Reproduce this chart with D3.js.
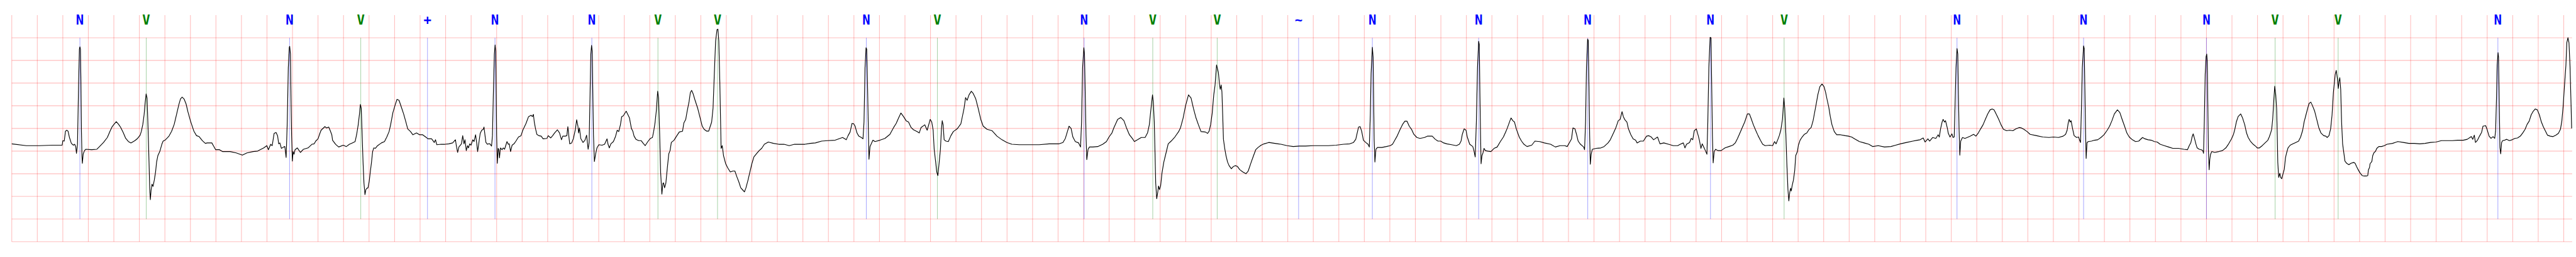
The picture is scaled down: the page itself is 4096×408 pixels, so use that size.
<!DOCTYPE html>
<html><head><meta charset="utf-8">
<script src="https://cdn.jsdelivr.net/npm/d3@7"></script>
<style>html,body{margin:0;padding:0;background:#fff;overflow:hidden}</style>
</head><body>
<svg id="chart" width="4096" height="408" viewBox="0 0 7523 750" preserveAspectRatio="none"></svg>
<script>
// ECG trace: [time (s), amplitude (mV)]
const ecgPoints = [
[0.000,-0.34],[0.113,-0.38],[0.216,-0.38],[0.318,-0.37],[0.395,-0.37],[0.400,-0.27],[0.411,-0.28],[0.421,-0.06],[0.431,-0.04],[0.441,-0.06],[0.452,-0.20],[0.467,-0.33],[0.483,-0.37],[0.493,-0.35],[0.501,-0.40],[0.507,-0.55],[0.515,-0.35],[0.524,1.03],[0.530,1.75],[0.534,1.80],[0.538,1.75],[0.542,1.03],[0.546,-0.06],[0.550,-0.60],[0.553,-0.77],[0.560,-0.56],[0.570,-0.49],[0.580,-0.46],[0.626,-0.47],[0.667,-0.46],[0.688,-0.40],[0.719,-0.31],[0.749,-0.20],[0.770,-0.06],[0.785,0.03],[0.801,0.09],[0.819,0.15],[0.837,0.09],[0.852,0.03],[0.873,-0.09],[0.893,-0.22],[0.914,-0.29],[0.934,-0.32],[0.965,-0.27],[0.986,-0.22],[1.006,-0.15],[1.016,-0.06],[1.027,0.09],[1.037,0.30],[1.045,0.56],[1.053,0.76],[1.060,0.67],[1.068,0.01],[1.076,-0.78],[1.081,-1.32],[1.086,-1.57],[1.092,-1.36],[1.099,-1.23],[1.107,-1.28],[1.117,-1.14],[1.127,-0.96],[1.135,-0.74],[1.145,-0.60],[1.160,-0.51],[1.176,-0.35],[1.186,-0.28],[1.201,-0.26],[1.232,-0.17],[1.253,-0.06],[1.273,0.09],[1.294,0.34],[1.309,0.52],[1.322,0.65],[1.335,0.69],[1.350,0.65],[1.366,0.54],[1.381,0.36],[1.401,0.16],[1.427,-0.06],[1.448,-0.16],[1.468,-0.18],[1.494,-0.27],[1.517,-0.33],
[1.532,-0.32],[1.568,-0.32],[1.580,-0.38],[1.598,-0.47],[1.628,-0.47],[1.651,-0.51],[1.711,-0.51],[1.759,-0.54],[1.807,-0.59],[1.843,-0.54],[1.891,-0.51],[1.927,-0.50],[1.975,-0.43],[1.999,-0.38],[2.011,-0.47],[2.029,-0.35],[2.041,-0.38],[2.056,-0.11],[2.071,-0.09],[2.083,-0.16],[2.092,-0.34],[2.101,-0.32],[2.113,-0.44],[2.131,-0.41],[2.140,-0.40],[2.150,-0.64],[2.159,0.14],[2.167,1.34],[2.175,1.79],[2.178,1.81],[2.184,1.64],[2.188,0.74],[2.193,-0.16],[2.199,-0.72],[2.205,-0.51],[2.212,-0.57],[2.220,-0.47],[2.238,-0.43],[2.262,-0.53],[2.286,-0.46],[2.322,-0.43],[2.352,-0.35],[2.370,-0.34],[2.382,-0.28],[2.400,-0.23],[2.416,-0.10],[2.424,-0.04],[2.454,0.04],[2.466,0.01],[2.484,0.03],[2.496,-0.05],[2.508,-0.14],[2.514,-0.26],[2.538,-0.35],[2.562,-0.41],[2.598,-0.37],[2.622,-0.40],[2.646,-0.35],[2.669,-0.32],[2.691,-0.29],[2.703,-0.13],[2.715,0.08],[2.725,0.32],[2.732,0.53],[2.739,0.44],[2.746,-0.16],[2.753,-0.75],[2.760,-1.20],[2.768,-1.46],[2.775,-1.35],[2.783,-1.32],[2.792,-1.31],[2.801,-1.17],[2.811,-0.93],[2.819,-0.75],[2.828,-0.51],[2.837,-0.43],[2.849,-0.44],[2.867,-0.38],[2.897,-0.32],[2.921,-0.29],[2.939,-0.19],[2.957,-0.07],[2.969,0.08],[2.987,0.35],[3.005,0.52],[3.019,0.64],[3.035,0.62],[3.053,0.47],[3.071,0.32],[3.089,0.14],[3.103,-0.01],[3.125,-0.07],[3.143,-0.14],[3.172,-0.10],[3.196,-0.14],[3.220,-0.14],[3.244,-0.19],[3.262,-0.23],[3.290,-0.23],
[3.296,-0.25],[3.311,-0.31],[3.321,-0.25],[3.331,-0.36],[3.365,-0.35],[3.395,-0.35],[3.425,-0.34],[3.455,-0.32],[3.477,-0.25],[3.484,-0.38],[3.494,-0.53],[3.504,-0.41],[3.524,-0.34],[3.534,-0.16],[3.544,-0.34],[3.552,-0.25],[3.562,-0.49],[3.572,-0.38],[3.579,-0.43],[3.589,-0.34],[3.599,-0.37],[3.613,-0.25],[3.623,-0.29],[3.635,-0.14],[3.643,-0.31],[3.651,-0.51],[3.661,-0.31],[3.671,-0.11],[3.683,-0.04],[3.695,-0.02],[3.701,0.03],[3.709,-0.16],[3.716,-0.31],[3.728,-0.35],[3.737,-0.34],[3.747,-0.34],[3.760,-0.39],[3.767,-0.16],[3.774,0.74],[3.782,1.64],[3.788,1.84],[3.793,1.70],[3.797,0.74],[3.800,-0.16],[3.805,-0.77],[3.812,-0.44],[3.817,-0.46],[3.822,-0.65],[3.830,-0.43],[3.842,-0.47],[3.852,-0.43],[3.862,-0.46],[3.881,-0.29],[3.891,-0.35],[3.899,-0.34],[3.909,-0.51],[3.921,-0.37],[3.936,-0.34],[3.951,-0.28],[3.971,-0.19],[3.991,-0.16],[4.005,-0.04],[4.030,0.11],[4.050,0.26],[4.070,0.29],[4.080,0.26],[4.088,0.31],[4.095,0.14],[4.105,-0.01],[4.115,-0.13],[4.130,-0.16],[4.149,-0.17],[4.164,-0.23],[4.194,-0.22],[4.204,-0.16],[4.224,-0.21],[4.239,-0.16],[4.254,-0.10],[4.276,-0.03],[4.293,-0.10],[4.308,-0.25],[4.318,-0.17],[4.338,-0.17],[4.350,-0.16],[4.358,0.04],[4.368,-0.23],[4.373,-0.34],[4.388,-0.32],[4.402,-0.22],[4.417,-0.02],[4.427,0.19],[4.437,0.05],[4.442,-0.10],[4.449,0.01],[4.459,-0.22],[4.477,-0.31],[4.492,-0.26],[4.505,-0.15],[4.517,-0.46],[4.525,-0.31],[4.532,0.74],[4.538,1.64],[4.544,1.83],[4.549,1.70],[4.554,0.74],[4.559,-0.16],[4.566,-0.73],[4.576,-0.56],[4.586,-0.43],[4.601,-0.36],[4.626,-0.37],[4.646,-0.35],[4.665,-0.23],[4.673,-0.35],[4.683,-0.43],[4.695,-0.34],[4.715,-0.29],[4.730,-0.19],[4.745,-0.04],[4.757,-0.07],[4.770,0.08],[4.780,0.26],[4.793,0.28],
[4.815,0.38],[4.831,0.29],[4.841,0.23],[4.856,0.00],[4.867,-0.06],[4.877,-0.17],[4.892,-0.24],[4.913,-0.27],[4.933,-0.27],[4.949,-0.33],[4.964,-0.38],[4.985,-0.29],[5.005,-0.22],[5.021,-0.20],[5.031,-0.06],[5.041,0.12],[5.051,0.38],[5.062,0.82],[5.069,0.67],[5.077,-0.06],[5.085,-0.96],[5.095,-1.45],[5.103,-1.21],[5.108,-1.20],[5.116,-1.31],[5.126,-1.21],[5.137,-0.89],[5.149,-0.56],[5.159,-0.49],[5.169,-0.31],[5.190,-0.26],[5.210,-0.17],[5.231,-0.08],[5.257,-0.06],[5.267,0.12],[5.282,0.20],[5.293,0.38],[5.308,0.59],[5.318,0.79],[5.328,0.84],[5.339,0.77],[5.354,0.63],[5.375,0.45],[5.395,0.23],[5.411,0.05],[5.426,-0.02],[5.446,-0.06],[5.462,-0.06],[5.472,0.03],[5.485,0.14],[5.496,0.45],[5.506,1.21],[5.516,1.93],[5.527,2.18],[5.534,2.19],[5.541,1.93],[5.549,1.03],[5.554,0.30],[5.559,-0.44],[5.568,-0.38],[5.578,-0.60],[5.595,-0.78],[5.611,-0.87],[5.631,-0.96],[5.652,-0.94],[5.667,-0.94],[5.683,-1.07],[5.698,-1.18],[5.713,-1.31],[5.729,-1.36],[5.742,-1.40],[5.754,-1.31],[5.770,-1.14],[5.785,-0.96],[5.800,-0.78],[5.816,-0.63],[5.836,-0.56],[5.857,-0.49],[5.877,-0.44],[5.898,-0.35],[5.929,-0.30],[5.970,-0.33],[6.011,-0.35],[6.052,-0.35],[6.093,-0.38],[6.134,-0.35],[6.175,-0.35],[6.216,-0.35],[6.257,-0.33],[6.298,-0.32],[6.347,-0.28],
[6.394,-0.27],[6.453,-0.26],[6.511,-0.20],[6.540,-0.25],[6.554,-0.16],[6.570,-0.08],[6.585,0.11],[6.599,0.10],[6.609,0.05],[6.624,-0.10],[6.638,-0.17],[6.658,-0.20],[6.671,-0.23],[6.679,0.14],[6.687,1.34],[6.695,1.78],[6.700,1.75],[6.706,1.04],[6.712,0.14],[6.718,-0.68],[6.726,-0.40],[6.736,-0.34],[6.749,-0.26],[6.765,-0.29],[6.804,-0.26],[6.843,-0.22],[6.882,-0.13],[6.911,0.02],[6.931,0.11],[6.950,0.23],[6.968,0.34],[6.989,0.26],[7.009,0.17],[7.028,0.14],[7.048,0.02],[7.067,-0.03],[7.096,-0.07],[7.112,-0.10],[7.126,0.02],[7.155,0.08],[7.174,-0.04],[7.186,0.08],[7.198,0.20],[7.210,0.14],[7.221,-0.04],[7.229,-0.46],[7.241,-0.75],[7.249,-0.96],[7.258,-1.04],[7.268,-0.75],[7.278,-0.46],[7.286,-0.01],[7.292,0.17],[7.299,0.08],[7.307,-0.25],[7.321,-0.28],[7.340,-0.29],[7.360,-0.16],[7.379,-0.07],[7.409,-0.01],[7.438,0.10],[7.452,0.29],[7.463,0.44],[7.475,0.68],[7.487,0.62],[7.502,0.74],[7.520,0.82],[7.535,0.77],[7.555,0.65],[7.574,0.44],[7.594,0.20],[7.613,0.05],[7.643,-0.02],[7.682,-0.05],[7.721,-0.17],[7.760,-0.25],[7.799,-0.31],[7.838,-0.35],[7.896,-0.36],[7.974,-0.36],[8.052,-0.36],[8.130,-0.34],[8.208,-0.34],[8.238,-0.31],[8.257,-0.22],[8.273,-0.07],[8.286,0.05],[8.302,0.00],[8.316,-0.19],[8.335,-0.29],[8.361,-0.32],[8.376,-0.41],[8.384,0.14],[8.392,1.34],[8.402,1.78],[8.407,1.64],[8.413,0.74],[8.419,-0.16],[8.425,-0.69],[8.435,-0.46],[8.446,-0.41],[8.472,-0.41],[8.511,-0.40],[8.550,-0.35],[8.579,-0.29],[8.599,-0.19],[8.622,-0.10],[8.638,0.02],[8.667,0.20],[8.692,0.24],[8.716,0.17],[8.735,0.02],[8.759,-0.14],[8.784,-0.23],[8.798,-0.29],[8.823,-0.25],[8.852,-0.20],[8.882,-0.20],[8.901,-0.10],[8.915,0.08],[8.926,0.38],[8.934,0.59],[8.940,0.74],[8.946,0.59],[8.954,0.14],[8.959,-0.46],[8.965,-1.20],[8.973,-1.55],[8.981,-1.41],[8.987,-1.27],[8.995,-1.35],[9.004,-1.26],[9.014,-0.99],[9.028,-0.75],[9.047,-0.53],[9.063,-0.34],[9.086,-0.28],[9.115,-0.19],[9.145,-0.07],[9.160,0.02],[9.180,0.23],[9.199,0.50],[9.222,0.74],[9.242,0.67],[9.261,0.44],[9.281,0.23],[9.300,0.08],[9.320,-0.07],[9.355,-0.08],
[9.372,-0.11],[9.384,-0.06],[9.396,0.09],[9.408,0.34],[9.420,0.74],[9.430,0.95],[9.442,1.40],[9.456,1.24],[9.466,0.95],[9.471,0.86],[9.478,0.96],[9.484,0.81],[9.490,0.30],[9.496,-0.24],[9.507,-0.46],[9.516,-0.60],[9.528,-0.74],[9.540,-0.82],[9.558,-0.89],[9.570,-0.85],[9.588,-0.82],[9.606,-0.84],[9.624,-0.91],[9.648,-0.96],[9.672,-1.00],[9.690,-0.94],[9.714,-0.74],[9.732,-0.60],[9.749,-0.47],[9.767,-0.42],[9.791,-0.37],[9.815,-0.34],[9.851,-0.31],[9.899,-0.33],[9.947,-0.35],[9.995,-0.38],[10.043,-0.40],[10.091,-0.39],[10.139,-0.39],[10.198,-0.38],[10.258,-0.38],[10.318,-0.38],[10.378,-0.37],[10.438,-0.35],[10.486,-0.34],[10.515,-0.31],[10.533,-0.24],[10.545,-0.09],[10.555,0.03],[10.567,0.04],[10.579,-0.06],[10.593,-0.26],[10.611,-0.31],[10.629,-0.35],[10.639,-0.41],[10.647,0.30],[10.653,1.21],[10.663,1.79],[10.669,1.57],[10.673,0.67],[10.677,-0.24],[10.683,-0.74],[10.691,-0.46],[10.703,-0.42],[10.737,-0.42],[10.773,-0.40],[10.803,-0.38],[10.821,-0.35],[10.839,-0.26],[10.857,-0.17],[10.881,-0.02],[10.900,0.09],[10.918,0.16],[10.934,0.16],[10.952,0.05],[10.970,-0.02],[10.988,-0.13],[11.012,-0.20],[11.036,-0.22],[11.072,-0.20],[11.096,-0.17],[11.132,-0.17],[11.156,-0.24],[11.177,-0.28],
[11.198,-0.28],[11.222,-0.32],[11.247,-0.34],[11.284,-0.36],[11.321,-0.38],[11.345,-0.35],[11.358,-0.28],[11.368,-0.13],[11.382,-0.01],[11.397,-0.04],[11.407,-0.19],[11.426,-0.35],[11.450,-0.40],[11.459,-0.49],[11.469,-0.63],[11.478,0.14],[11.487,1.34],[11.496,1.92],[11.501,1.85],[11.506,0.74],[11.511,-0.16],[11.515,-0.78],[11.522,-0.60],[11.530,-0.54],[11.538,-0.44],[11.549,-0.49],[11.567,-0.50],[11.592,-0.51],[11.617,-0.44],[11.641,-0.41],[11.666,-0.29],[11.690,-0.19],[11.709,-0.07],[11.721,0.01],[11.740,0.16],[11.750,0.23],[11.764,0.17],[11.777,0.14],[11.791,-0.01],[11.814,-0.19],[11.832,-0.28],[11.851,-0.35],[11.875,-0.40],[11.912,-0.37],[11.937,-0.28],[11.974,-0.29],[12.011,-0.32],[12.060,-0.35],[12.097,-0.41],[12.134,-0.38],[12.171,-0.38],[12.190,-0.40],[12.208,-0.31],[12.224,-0.23],[12.235,0.01],[12.251,-0.01],[12.263,-0.13],[12.276,-0.28],[12.294,-0.35],[12.319,-0.41],[12.326,-0.47],[12.334,0.14],[12.341,1.34],[12.350,1.97],[12.355,1.94],[12.360,1.04],[12.366,-0.16],[12.371,-0.79],[12.378,-0.57],[12.387,-0.46],[12.418,-0.44],[12.454,-0.43],[12.479,-0.40],[12.510,-0.32],[12.528,-0.25],[12.553,-0.10],[12.572,0.02],[12.590,0.17],[12.605,0.20],[12.620,0.37],[12.630,0.26],[12.642,0.19],[12.658,0.14],[12.670,-0.01],[12.689,-0.14],[12.707,-0.23],[12.726,-0.26],[12.738,-0.32],[12.763,-0.28],[12.787,-0.28],[12.812,-0.17],[12.830,-0.16],[12.849,-0.19],[12.867,-0.25],[12.898,-0.19],[12.917,-0.34],[12.947,-0.32],[12.984,-0.35],[13.021,-0.38],[13.056,-0.38],
[13.076,-0.35],[13.100,-0.32],[13.113,-0.43],[13.125,-0.35],[13.149,-0.31],[13.162,-0.22],[13.174,-0.25],[13.186,-0.05],[13.202,-0.01],[13.217,-0.16],[13.226,-0.26],[13.238,-0.44],[13.248,-0.34],[13.263,-0.43],[13.273,-0.49],[13.285,-0.57],[13.292,0.14],[13.300,1.34],[13.310,2.01],[13.317,2.00],[13.322,1.04],[13.328,-0.16],[13.334,-0.76],[13.342,-0.51],[13.353,-0.46],[13.371,-0.49],[13.396,-0.49],[13.427,-0.43],[13.458,-0.40],[13.488,-0.37],[13.507,-0.32],[13.525,-0.22],[13.544,-0.10],[13.562,0.02],[13.581,0.14],[13.602,0.32],[13.618,0.32],[13.630,0.23],[13.649,0.08],[13.667,-0.04],[13.686,-0.16],[13.704,-0.26],[13.722,-0.35],[13.741,-0.38],[13.778,-0.37],[13.800,-0.38],[13.815,-0.29],[13.827,-0.34],[13.840,-0.25],[13.852,-0.16],[13.864,-0.04],[13.877,0.20],[13.888,0.67],[13.895,0.44],[13.904,-0.16],[13.911,-0.75],[13.920,-1.35],[13.927,-1.60],[13.934,-1.41],[13.941,-1.32],[13.946,-1.38],[13.953,-1.26],[13.963,-1.14],[13.973,-0.93],[13.981,-0.60],[13.994,-0.51],[14.002,-0.37],[14.015,-0.26],[14.031,-0.19],[14.049,-0.13],[14.068,-0.10],[14.086,-0.02],[14.102,0.02],[14.117,0.17],[14.125,0.29],[14.141,0.53],[14.154,0.74],[14.170,0.92],[14.187,0.98],[14.203,0.92],[14.215,0.80],[14.228,0.62],[14.240,0.47],[14.252,0.26],[14.265,0.08],[14.283,-0.07],[14.302,-0.14],[14.332,-0.14],[14.369,-0.16],[14.394,-0.17],[14.419,-0.19],[14.443,-0.23],[14.480,-0.29],[14.517,-0.32],[14.554,-0.35],[14.585,-0.40],[14.628,-0.38],[14.677,-0.41],[14.727,-0.40],[14.764,-0.37],[14.801,-0.34],[14.850,-0.31],[14.899,-0.28],[14.934,-0.26],
[14.956,-0.25],[14.980,-0.21],[14.995,-0.30],[15.017,-0.23],[15.030,-0.28],[15.054,-0.20],[15.079,-0.22],[15.097,-0.14],[15.106,-0.19],[15.116,-0.01],[15.128,0.14],[15.136,0.20],[15.147,0.14],[15.155,0.17],[15.168,0.02],[15.177,-0.11],[15.190,-0.19],[15.205,-0.12],[15.214,-0.20],[15.223,-0.19],[15.229,0.44],[15.237,1.34],[15.245,1.76],[15.251,1.64],[15.256,0.74],[15.261,-0.01],[15.267,-0.59],[15.274,-0.28],[15.288,-0.20],[15.307,-0.22],[15.325,-0.20],[15.350,-0.17],[15.375,-0.13],[15.393,-0.17],[15.412,-0.10],[15.430,-0.01],[15.449,0.08],[15.467,0.20],[15.486,0.32],[15.504,0.41],[15.520,0.43],[15.535,0.41],[15.553,0.31],[15.572,0.20],[15.590,0.08],[15.609,-0.02],[15.633,-0.05],[15.658,-0.04],[15.683,-0.05],[15.707,-0.01],[15.732,0.02],[15.750,0.01],[15.769,-0.02],[15.794,-0.07],[15.818,-0.13],[15.868,-0.16],[15.917,-0.19],[15.966,-0.20],[16.001,-0.19],[16.040,-0.20],[16.077,-0.17],[16.096,-0.13],[16.108,-0.04],[16.116,0.11],[16.124,0.20],[16.132,0.14],[16.139,0.17],[16.151,-0.01],[16.163,-0.16],[16.182,-0.20],[16.198,-0.19],[16.206,-0.26],[16.213,-0.31],[16.220,0.44],[16.227,1.34],[16.237,1.82],[16.242,1.76],[16.247,0.89],[16.252,-0.01],[16.257,-0.66],[16.264,-0.31],[16.274,-0.29],[16.299,-0.28],[16.323,-0.26],[16.348,-0.25],[16.373,-0.20],[16.397,-0.14],[16.422,-0.04],[16.441,0.05],[16.459,0.17],[16.478,0.32],[16.502,0.41],[16.521,0.35],[16.539,0.20],[16.558,0.05],[16.576,-0.10],[16.595,-0.19],[16.619,-0.25],[16.644,-0.29],[16.669,-0.28],[16.699,-0.20],[16.718,-0.23],[16.742,-0.25],[16.767,-0.26],[16.792,-0.29],[16.814,-0.30],
[16.837,-0.35],[16.870,-0.38],[16.903,-0.41],[16.936,-0.44],[16.980,-0.44],[17.023,-0.46],[17.051,-0.47],[17.065,-0.38],[17.078,-0.31],[17.087,-0.19],[17.096,-0.12],[17.106,-0.22],[17.117,-0.34],[17.127,-0.43],[17.144,-0.46],[17.160,-0.47],[17.171,-0.49],[17.177,-0.55],[17.183,0.14],[17.190,1.19],[17.197,1.58],[17.202,1.64],[17.206,1.49],[17.211,0.44],[17.215,-0.46],[17.221,-0.91],[17.226,-0.69],[17.232,-0.57],[17.242,-0.51],[17.264,-0.53],[17.297,-0.51],[17.325,-0.49],[17.352,-0.43],[17.374,-0.34],[17.396,-0.23],[17.412,-0.13],[17.423,-0.01],[17.434,0.14],[17.448,0.26],[17.468,0.32],[17.483,0.23],[17.500,0.08],[17.514,-0.10],[17.527,-0.20],[17.544,-0.28],[17.566,-0.35],[17.588,-0.40],[17.598,-0.43],[17.615,-0.43],[17.637,-0.38],[17.659,-0.32],[17.681,-0.26],[17.692,-0.19],[17.703,-0.10],[17.711,-0.02],[17.719,0.20],[17.727,0.59],[17.735,0.93],[17.743,0.74],[17.750,0.44],[17.755,-0.16],[17.759,-0.75],[17.766,-1.08],[17.775,-0.99],[17.781,-1.08],[17.790,-1.11],[17.801,-0.99],[17.810,-0.90],[17.819,-0.65],[17.828,-0.54],[17.839,-0.43],[17.856,-0.37],[17.878,-0.34],[17.900,-0.31],[17.922,-0.28],[17.938,-0.19],[17.954,-0.04],[17.965,0.14],[17.979,0.29],[17.993,0.44],[18.004,0.55],[18.018,0.58],[18.031,0.50],[18.048,0.38],[18.064,0.20],[18.080,0.02],[18.097,-0.10],[18.119,-0.16],[18.135,-0.17],[18.146,-0.20],[18.160,-0.16],[18.173,-0.01],[18.184,0.29],[18.195,0.80],[18.209,1.19],[18.217,1.28],[18.226,1.10],[18.233,0.88],[18.239,1.04],[18.245,1.12],[18.252,0.86],[18.259,0.14],[18.267,-0.34],[18.278,-0.57],[18.285,-0.72],[18.299,-0.77],[18.316,-0.80],[18.332,-0.77],[18.354,-0.75],[18.365,-0.77],[18.376,-0.84],[18.387,-0.90],[18.403,-0.98],[18.420,-1.04],[18.436,-1.05],[18.453,-1.05],[18.464,-1.04],[18.469,-0.92],[18.478,-0.86],
[18.482,-0.78],[18.496,-0.73],[18.503,-0.60],[18.514,-0.53],[18.524,-0.51],[18.535,-0.44],[18.551,-0.40],[18.572,-0.40],[18.594,-0.38],[18.615,-0.35],[18.658,-0.33],[18.700,-0.29],[18.743,-0.31],[18.786,-0.33],[18.828,-0.33],[18.871,-0.34],[18.913,-0.33],[18.956,-0.31],[18.999,-0.30],[19.041,-0.27],[19.084,-0.27],[19.127,-0.27],[19.169,-0.26],[19.212,-0.26],[19.244,-0.24],[19.265,-0.20],[19.276,-0.18],[19.287,-0.24],[19.299,-0.15],[19.308,-0.31],[19.324,-0.26],[19.340,-0.17],[19.356,-0.09],[19.367,0.05],[19.388,0.06],[19.399,-0.02],[19.415,-0.17],[19.430,-0.22],[19.446,-0.18],[19.459,-0.22],[19.466,-0.06],[19.473,0.67],[19.478,1.39],[19.485,1.67],[19.489,1.57],[19.494,0.67],[19.500,-0.42],[19.506,-0.56],[19.513,-0.31],[19.521,-0.27],[19.537,-0.26],[19.553,-0.24],[19.574,-0.27],[19.596,-0.25],[19.617,-0.22],[19.638,-0.21],[19.660,-0.17],[19.681,-0.09],[19.697,-0.02],[19.713,0.09],[19.729,0.16],[19.745,0.30],[19.761,0.38],[19.777,0.43],[19.793,0.41],[19.809,0.30],[19.825,0.14],[19.841,0.03],[19.857,-0.06],[19.873,-0.15],[19.894,-0.17],[19.916,-0.18],[19.937,-0.15],[19.958,-0.11],[19.974,-0.02],[19.985,0.16],[19.995,0.48],[20.006,0.95],[20.017,1.39],[20.024,1.89],[20.033,2.00],[20.041,1.89],[20.049,1.39],[20.056,0.67],[20.062,0.00]
];

// Beat annotations
const beatTimes = [0.534,1.054,2.177,2.735,3.258,3.787,4.546,5.064,5.531,6.697,7.254,8.404,8.942,9.447,10.085,10.663,11.496,12.351,13.313,13.890,15.245,16.237,17.200,17.738,18.232,19.484];
const beatSymbols = ["N","V","N","V","+","N","N","V","V","N","V","N","V","V","~","N","N","N","N","V","N","N","N","V","V","N"];

// Grid
const timeGridStep = 0.2;   // s
const mvGridValues = [2.0,1.5,1.0,0.5,0.0,-0.5,-1.0,-1.5,-2.0,-2.5];
const timeDomain = [0, 20.066];
const mvDomain = [-2.5, 2.5];

const symbolColor = {"N":"#0000ff","+":"#0000ff","~":"#0000ff","V":"#008000"};

const svg = d3.select("#chart");
svg.append("rect").attr("x",0).attr("y",0).attr("width",7523).attr("height",750).attr("fill","#fff");

const x = d3.scaleLinear().domain(timeDomain).range([34.4, 7511.8]);
const y = d3.scaleLinear().domain(mvDomain).range([705.5, 44]);

const grid = svg.append("g").attr("stroke","#ff0000").attr("stroke-opacity",0.26).attr("stroke-width",2);
const vTicks = d3.range(0, Math.floor(timeDomain[1]/timeGridStep + 1e-6) + 1).map(k => k*timeGridStep);
grid.selectAll("line.v").data(vTicks).join("line").attr("class","v")
  .attr("x1",d=>x(d)).attr("x2",d=>x(d)).attr("y1",y(mvDomain[1])).attr("y2",y(mvDomain[0]));
grid.selectAll("line.h").data(mvGridValues).join("line").attr("class","h")
  .attr("x1",x(timeDomain[0])).attr("x2",x(timeDomain[1])).attr("y1",d=>y(d)).attr("y2",d=>y(d));

const beats = beatTimes.map((t,i)=>({t, s: beatSymbols[i]}));
svg.append("g").selectAll("line").data(beats).join("line")
  .attr("x1",d=>x(d.t)).attr("x2",d=>x(d.t))
  .attr("y1",y(2.0)).attr("y2",y(-2.0))
  .attr("stroke",d=>symbolColor[d.s]).attr("stroke-opacity",0.5).attr("stroke-width",1.3);

const line = d3.line().x(d=>x(d[0])).y(d=>y(d[1]));
svg.append("path").datum(ecgPoints).attr("d",line)
  .attr("fill","none").attr("stroke","#000").attr("stroke-width",2.1).attr("stroke-linejoin","round");

svg.append("g").selectAll("text").data(beats).join("text")
  .attr("x",d=>x(d.t)).attr("y",y(mvDomain[1]) + 27.7)
  .attr("text-anchor","middle")
  .attr("font-family","'DejaVu Sans Mono', monospace").attr("font-weight","bold").attr("font-size",38)
  .attr("fill",d=>symbolColor[d.s])
  .text(d=>d.s);
</script>
</body></html>
